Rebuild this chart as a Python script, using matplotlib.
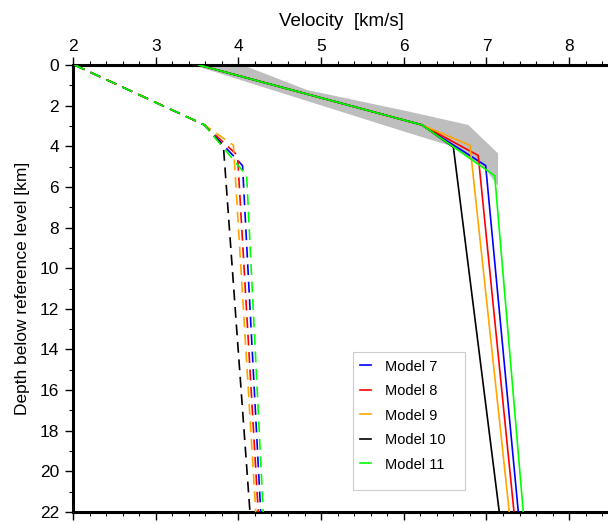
import matplotlib
matplotlib.use("Agg")
import matplotlib.pyplot as plt
from matplotlib.ticker import MultipleLocator
from matplotlib.patches import Rectangle

plt.rcParams['font.family'] = ['Liberation Sans', 'DejaVu Sans']

# Model names and colours
models = ["Model 7", "Model 8", "Model 9", "Model 10", "Model 11"]
colors = ["#0000ff", "#ff0000", "#ffa500", "#000000", "#00ff00"]

# Depth knots [km] for each model
depth_m7 = [0.0, 2.95, 4.95, 22.0]
depth_m8 = [0.0, 2.95, 4.45, 22.0]
depth_m9 = [0.0, 2.95, 3.95, 22.0]
depth_m10 = [0.0, 2.95, 4.05, 22.0]
depth_m11 = [0.0, 2.95, 5.45, 22.0]

# P velocities [km/s] (solid)
vp_m7 = [3.52, 6.22, 6.99, 7.385]
vp_m8 = [3.52, 6.22, 6.90, 7.333]
vp_m9 = [3.52, 6.22, 6.80, 7.276]
vp_m10 = [3.52, 6.22, 6.60, 7.155]
vp_m11 = [3.52, 6.22, 7.10, 7.445]

# S velocities [km/s] (dashed)
vs_m7 = [2.02, 3.59, 4.05, 4.27]
vs_m8 = [2.02, 3.59, 3.99, 4.24]
vs_m9 = [2.02, 3.59, 3.94, 4.21]
vs_m10 = [2.02, 3.59, 3.82, 4.14]
vs_m11 = [2.02, 3.59, 4.10, 4.30]

depths = [depth_m7, depth_m8, depth_m9, depth_m10, depth_m11]
vps = [vp_m7, vp_m8, vp_m9, vp_m10, vp_m11]
vss = [vs_m7, vs_m8, vs_m9, vs_m10, vs_m11]

# Grey uncertainty band (velocity, depth) polygon outline
band_v = [3.45, 4.05, 4.83, 6.07, 6.78, 7.14, 7.14, 7.10, 7.00, 6.60, 6.07, 3.45]
band_z = [0.00, 0.00, 1.23, 2.30, 2.95, 4.35, 5.95, 5.75, 5.17, 4.02, 3.36, 0.00]

fig = plt.figure(figsize=(6.08, 5.23), dpi=100)
ax = fig.add_axes([73 / 608, 11 / 523, 537.5 / 608, 447 / 523])

ax.fill(band_v, band_z, color="#bebebe", lw=0, zorder=1)

for name, c, z, vp in zip(models, colors, depths, vps):
    ax.plot(vp, z, color=c, lw=1.2, label=name, zorder=3)
for c, z, vs in zip(colors, depths, vss):
    ax.plot(vs, z, color=c, lw=1.2, ls=(0, (6.5, 4)), zorder=3)

ax.set_xlim(2, 8.5)
ax.set_ylim(22, 0)

ax.xaxis.set_ticks_position('both')
ax.xaxis.set_label_position('top')
ax.tick_params(axis='x', which='both', top=True, bottom=True, labeltop=True,
               labelbottom=False, direction='out')
ax.xaxis.set_major_locator(MultipleLocator(1))
ax.xaxis.set_minor_locator(MultipleLocator(0.2))
ax.yaxis.set_major_locator(MultipleLocator(2))
ax.yaxis.set_minor_locator(MultipleLocator(1))
ax.tick_params(which='major', length=6, width=1.0, labelsize=12.5, pad=2)
ax.tick_params(axis='y', which='major', pad=4)
ax.tick_params(which='minor', length=3, width=0.8)

for s in ['top', 'left', 'bottom']:
    ax.spines[s].set_linewidth(2.2)
ax.spines['right'].set_visible(False)

ax.set_xlabel("Velocity  [km/s]", fontsize=13.5, labelpad=9)
ax.set_ylabel("Depth below reference level [km]", fontsize=12.5, labelpad=7)

# legend frame (drawn separately, with extra room at the bottom like the original)
ax.add_patch(Rectangle((0.5209, 0.0492), 0.2084, 0.3088, transform=ax.transAxes,
                       facecolor='white', edgecolor='#cccccc', lw=0.8, zorder=5))
leg = ax.legend(loc='upper left', bbox_to_anchor=(0.534, 0.341), fontsize=10.5,
                handlelength=0.75, handletextpad=0.95, borderpad=0,
                labelspacing=0.72, frameon=False, borderaxespad=0)
leg.set_zorder(6)

fig.savefig("out.png", dpi=100)
